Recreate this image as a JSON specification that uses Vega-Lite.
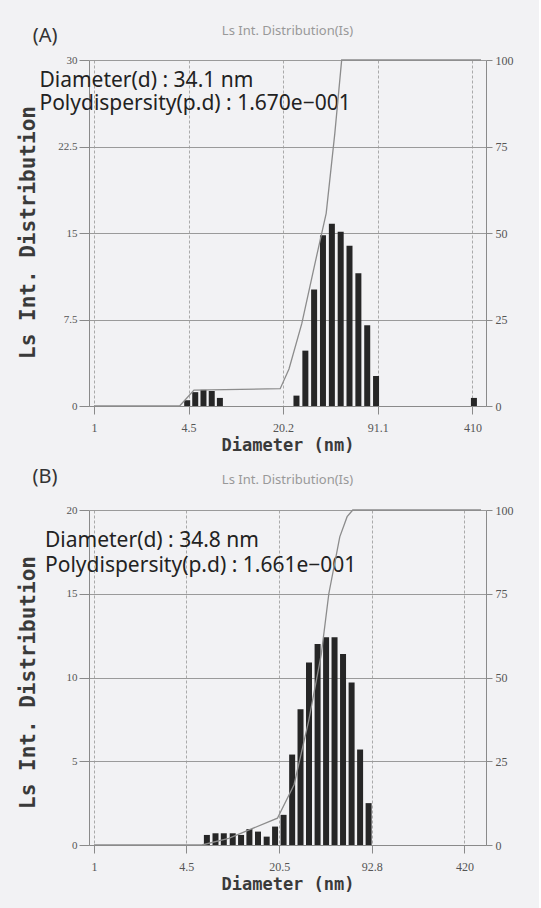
{
  "$schema": "https://vega.github.io/schema/vega-lite/v6.json",
  "background": "#f2f2f4",
  "padding": {"left": 17, "top": 24, "right": 26, "bottom": 18},
  "spacing": 104,
  "bounds": "flush",
  "config": {
    "view": {"stroke": null},
    "axis": {
      "labelFont": "Liberation Serif",
      "labelColor": "#555",
      "labelFontSize": 11,
      "titleFont": "DejaVu Sans Mono",
      "titleFontWeight": "bold",
      "titleColor": "#3a3a3a",
      "titleFontSize": 17,
      "domainColor": "#8a8a8a",
      "tickColor": "#8a8a8a",
      "gridColor": "#9a9a9a",
      "gridOpacity": 1
    },
    "title": {"font": "Noto Sans", "fontSize": 13, "fontWeight": "normal", "color": "#999"}
  },
  "datasets": {
    "barsA": [
      {"diameter": 4.4, "intensity": 0.5},
      {"diameter": 5.0, "intensity": 1.2},
      {"diameter": 5.7, "intensity": 1.4},
      {"diameter": 6.5, "intensity": 1.3},
      {"diameter": 7.4, "intensity": 0.7},
      {"diameter": 25.0, "intensity": 0.9},
      {"diameter": 28.8, "intensity": 4.8},
      {"diameter": 33.1, "intensity": 10.1},
      {"diameter": 38.1, "intensity": 14.8},
      {"diameter": 43.9, "intensity": 15.8},
      {"diameter": 50.5, "intensity": 15.1},
      {"diameter": 58.1, "intensity": 13.9},
      {"diameter": 66.9, "intensity": 11.5},
      {"diameter": 77.0, "intensity": 7.0},
      {"diameter": 88.6, "intensity": 2.6},
      {"diameter": 420, "intensity": 0.7}
    ],
    "cumA": [
      {"diameter": 1, "cumulative": 0},
      {"diameter": 3.9, "cumulative": 0},
      {"diameter": 4.9, "cumulative": 4.6},
      {"diameter": 19.3, "cumulative": 5.0},
      {"diameter": 22.2, "cumulative": 10.7},
      {"diameter": 27.2, "cumulative": 23.8},
      {"diameter": 33.3, "cumulative": 40.6},
      {"diameter": 40.1, "cumulative": 55.7},
      {"diameter": 46.0, "cumulative": 78.8},
      {"diameter": 51.3, "cumulative": 100},
      {"diameter": 470, "cumulative": 100}
    ],
    "barsB": [
      {"diameter": 6.3, "intensity": 0.6},
      {"diameter": 7.25, "intensity": 0.7},
      {"diameter": 8.3, "intensity": 0.7},
      {"diameter": 9.6, "intensity": 0.7},
      {"diameter": 11.0, "intensity": 0.6},
      {"diameter": 12.6, "intensity": 0.95},
      {"diameter": 14.5, "intensity": 0.8},
      {"diameter": 16.7, "intensity": 0.5},
      {"diameter": 19.15, "intensity": 1.1},
      {"diameter": 22.0, "intensity": 1.8},
      {"diameter": 25.3, "intensity": 5.4},
      {"diameter": 29.0, "intensity": 8.1},
      {"diameter": 33.3, "intensity": 10.9},
      {"diameter": 38.3, "intensity": 12.0},
      {"diameter": 44.0, "intensity": 12.4},
      {"diameter": 50.5, "intensity": 12.4},
      {"diameter": 58.0, "intensity": 11.4},
      {"diameter": 66.7, "intensity": 9.7},
      {"diameter": 76.6, "intensity": 5.7},
      {"diameter": 88.0, "intensity": 2.5}
    ],
    "cumB": [
      {"diameter": 1, "cumulative": 0},
      {"diameter": 5.8, "cumulative": 0},
      {"diameter": 9.0, "cumulative": 2},
      {"diameter": 19.9, "cumulative": 8},
      {"diameter": 26.1, "cumulative": 18},
      {"diameter": 33.1, "cumulative": 37},
      {"diameter": 40.7, "cumulative": 57},
      {"diameter": 46.0, "cumulative": 75},
      {"diameter": 55.0, "cumulative": 92},
      {"diameter": 62.0, "cumulative": 98},
      {"diameter": 68.0, "cumulative": 100},
      {"diameter": 550, "cumulative": 100}
    ]
  },
  "vconcat": [
    {
      "width": 397,
      "height": 346,
      "title": {"text": "Ls Int. Distribution(Is)", "offset": -12},
      "layer": [
        {
          "layer": [
            {
              "data": {"name": "barsA"},
              "mark": {"type": "bar", "size": 6, "color": "#262626"},
              "encoding": {
                "x": {
                  "field": "diameter", "type": "quantitative",
                  "scale": {"type": "log", "domain": [1, 470], "nice": false},
                  "axis": {"values": [1, 4.5, 20.2, 91.1, 410], "format": ".3~g", "title": "Diameter (nm)", "grid": true, "gridDash": [3, 2], "gridColor": "#aaa", "tickSize": 8, "labelPadding": 8, "labelDx": -5, "labelFontSize": 12, "labelFlush": false, "titlePadding": 4, "labelOverlap": false}
                },
                "y": {
                  "field": "intensity", "type": "quantitative",
                  "scale": {"domain": [0, 30], "nice": false},
                  "axis": {"values": [0, 7.5, 15, 22.5, 30], "format": ".3~g", "title": "Ls Int. Distribution", "titleFontSize": 21, "grid": true, "tickSize": 10, "labelPadding": 2, "titleX": -61, "titleY": 172, "titleAngle": 270, "titleAlign": "center", "titleBaseline": "middle", "labelOverlap": false}
                }
              }
            },
            {
              "data": {"values": [{"panel": "(A)"}]},
              "mark": {"type": "text", "align": "left", "baseline": "middle", "font": "Noto Sans", "fontSize": 20, "color": "#333"},
              "encoding": {"x": {"datum": 0.377}, "y": {"datum": 32.1}, "text": {"field": "panel"}}
            },
            {
              "data": {"values": [{"note": "Diameter(d) : 34.1 nm\nPolydispersity(p.d) : 1.670e−001"}]},
              "mark": {"type": "text", "align": "left", "baseline": "alphabetic", "lineBreak": "\n", "lineHeight": 23, "font": "Noto Sans", "fontSize": 21, "color": "#222"},
              "encoding": {"x": {"datum": 0.42}, "y": {"datum": 27.63}, "text": {"field": "note"}}
            }
          ]
        },
        {
          "data": {"name": "cumA"},
          "mark": {"type": "line", "color": "#8c8c8c", "strokeWidth": 1.3},
          "encoding": {
            "x": {"field": "diameter", "type": "quantitative"},
            "y": {
              "field": "cumulative", "type": "quantitative",
              "scale": {"domain": [0, 100], "nice": false},
              "axis": {"orient": "right", "values": [0, 25, 50, 75, 100], "title": null, "grid": false, "tickSize": 6, "labelPadding": 3, "labelFontSize": 12}
            }
          }
        }
      ],
      "resolve": {"scale": {"y": "independent"}}
    },
    {
      "width": 397,
      "height": 335,
      "title": {"text": "Ls Int. Distribution(Is)", "offset": -20},
      "layer": [
        {
          "layer": [
            {
              "data": {"name": "barsB"},
              "mark": {"type": "bar", "size": 6, "color": "#262626"},
              "encoding": {
                "x": {
                  "field": "diameter", "type": "quantitative",
                  "scale": {"type": "log", "domain": [1, 550], "nice": false},
                  "axis": {"values": [1, 4.5, 20.5, 92.8, 420], "format": ".3~g", "title": "Diameter (nm)", "grid": true, "gridDash": [3, 2], "gridColor": "#aaa", "tickSize": 8, "labelPadding": 8, "labelDx": -5, "labelFontSize": 12, "labelFlush": false, "titlePadding": 4, "labelOverlap": false}
                },
                "y": {
                  "field": "intensity", "type": "quantitative",
                  "scale": {"domain": [0, 20], "nice": false},
                  "axis": {"values": [0, 5, 10, 15, 20], "format": ".3~g", "title": "Ls Int. Distribution", "titleFontSize": 21, "grid": true, "tickSize": 10, "labelPadding": 2, "titleX": -61, "titleY": 172, "titleAngle": 270, "titleAlign": "center", "titleBaseline": "middle", "labelOverlap": false}
                }
              }
            },
            {
              "data": {"values": [{"panel": "(B)"}]},
              "mark": {"type": "text", "align": "left", "baseline": "middle", "font": "Noto Sans", "fontSize": 20, "color": "#333"},
              "encoding": {"x": {"datum": 0.367}, "y": {"datum": 22.0}, "text": {"field": "panel"}}
            },
            {
              "data": {"values": [{"note": "Diameter(d) : 34.8 nm\nPolydispersity(p.d) : 1.661e−001"}]},
              "mark": {"type": "text", "align": "left", "baseline": "alphabetic", "lineBreak": "\n", "lineHeight": 25, "font": "Noto Sans", "fontSize": 21, "color": "#222"},
              "encoding": {"x": {"datum": 0.45}, "y": {"datum": 17.79}, "text": {"field": "note"}}
            }
          ]
        },
        {
          "data": {"name": "cumB"},
          "mark": {"type": "line", "color": "#8c8c8c", "strokeWidth": 1.3},
          "encoding": {
            "x": {"field": "diameter", "type": "quantitative"},
            "y": {
              "field": "cumulative", "type": "quantitative",
              "scale": {"domain": [0, 100], "nice": false},
              "axis": {"orient": "right", "values": [0, 25, 50, 75, 100], "title": null, "grid": false, "tickSize": 6, "labelPadding": 3, "labelFontSize": 12}
            }
          }
        }
      ],
      "resolve": {"scale": {"y": "independent"}}
    }
  ]
}
